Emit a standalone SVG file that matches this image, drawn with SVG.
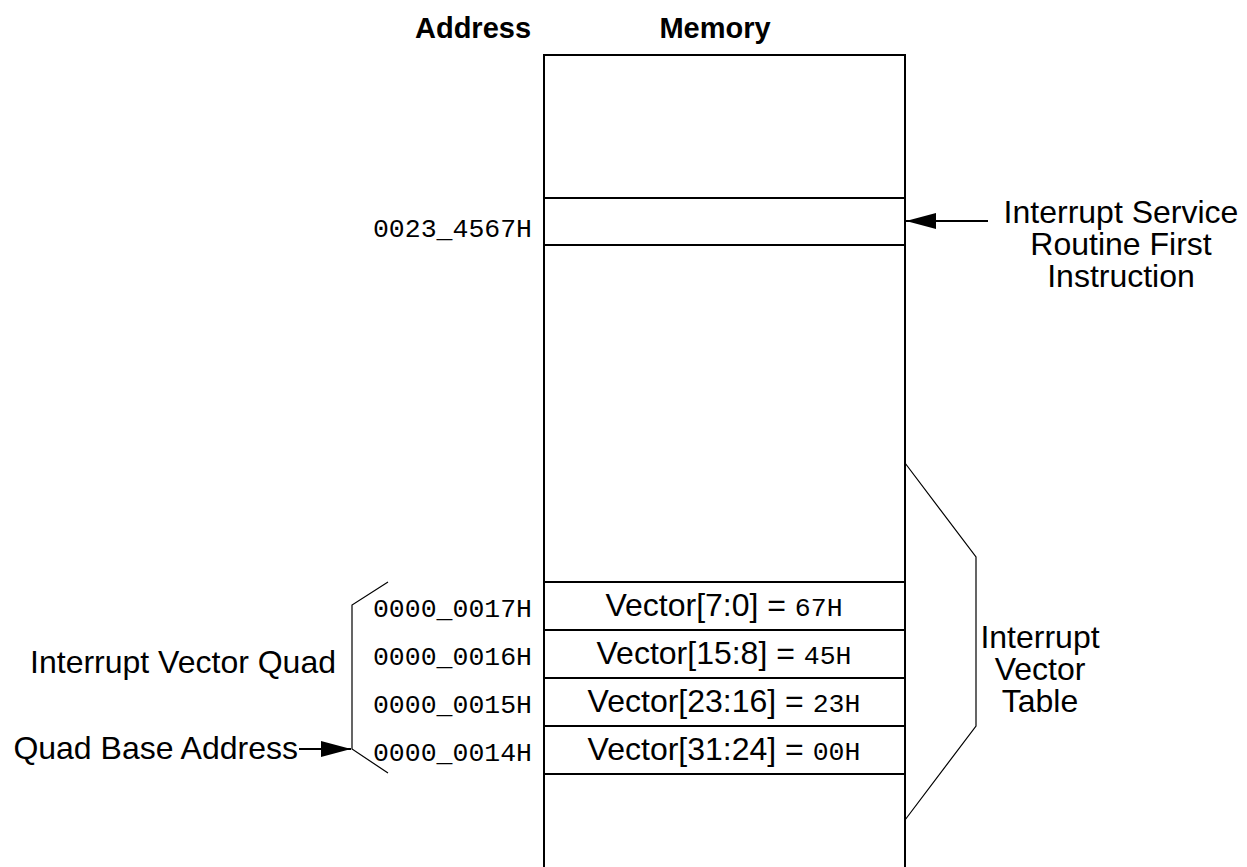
<svg xmlns="http://www.w3.org/2000/svg" width="1247" height="867" viewBox="0 0 1247 867">
  <style>
    .sans { font-family: "Liberation Sans", Arial, sans-serif; fill: #000; }
    .head { font-family: "Liberation Sans", Arial, sans-serif; font-weight: bold; font-size: 29px; fill: #000; }
    .lbl { font-size: 32px; }
    .mono { font-family: "Liberation Mono", "Courier New", monospace; font-size: 26.5px; fill: #000; }
    .box { fill: #fff; stroke: #000; stroke-width: 2; }
    .div { stroke: #000; stroke-width: 2; fill: none; }
    .thin { stroke: #000; stroke-width: 1.2; fill: none; }
  </style>
  <defs>
    <marker id="arrow" viewBox="0 0 30 16" refX="30" refY="8" markerWidth="30" markerHeight="16" markerUnits="userSpaceOnUse" orient="auto">
      <path d="M0,0 L30,8 L0,16 Z" fill="#000"/>
    </marker>
  </defs>
  <rect width="1247" height="867" fill="#fff"/>

  <!-- column headings -->
  <g id="headings">
    <text class="head" x="473" y="38" text-anchor="middle">Address</text>
    <text class="head" x="715" y="38" text-anchor="middle">Memory</text>
  </g>

  <!-- memory column with its cells -->
  <g id="memory">
    <rect class="box" x="544" y="55" width="361" height="830"/>
    <line class="div" x1="544" y1="198" x2="905" y2="198"/>
    <line class="div" x1="544" y1="245" x2="905" y2="245"/>
    <line class="div" x1="544" y1="582" x2="905" y2="582"/>
    <line class="div" x1="544" y1="630" x2="905" y2="630"/>
    <line class="div" x1="544" y1="678" x2="905" y2="678"/>
    <line class="div" x1="544" y1="726" x2="905" y2="726"/>
    <line class="div" x1="544" y1="774" x2="905" y2="774"/>
  </g>

  <g id="isr-cell">
    <text class="mono" x="532" y="237" text-anchor="end">0023_4567H</text>
  </g>

  <g id="vector-byte-0">
    <text class="mono" x="532" y="617" text-anchor="end">0000_0017H</text>
    <text class="sans lbl" x="724" y="616" text-anchor="middle">Vector[7:0] = <tspan class="mono">67H</tspan></text>
  </g>
  <g id="vector-byte-1">
    <text class="mono" x="532" y="665" text-anchor="end">0000_0016H</text>
    <text class="sans lbl" x="724" y="664" text-anchor="middle">Vector[15:8] = <tspan class="mono">45H</tspan></text>
  </g>
  <g id="vector-byte-2">
    <text class="mono" x="532" y="713" text-anchor="end">0000_0015H</text>
    <text class="sans lbl" x="724" y="712" text-anchor="middle">Vector[23:16] = <tspan class="mono">23H</tspan></text>
  </g>
  <g id="vector-byte-3">
    <text class="mono" x="532" y="761" text-anchor="end">0000_0014H</text>
    <text class="sans lbl" x="724" y="760" text-anchor="middle">Vector[31:24] = <tspan class="mono">00H</tspan></text>
  </g>

  <!-- annotations -->
  <g id="isr-label">
    <text class="sans lbl" x="1121" y="223" text-anchor="middle">Interrupt Service</text>
    <text class="sans lbl" x="1121" y="255" text-anchor="middle">Routine First</text>
    <text class="sans lbl" x="1121" y="287" text-anchor="middle">Instruction</text>
  </g>
  <g id="ivt-label">
    <text class="sans lbl" x="1040" y="648" text-anchor="middle">Interrupt</text>
    <text class="sans lbl" x="1040" y="680" text-anchor="middle">Vector</text>
    <text class="sans lbl" x="1040" y="712" text-anchor="middle">Table</text>
  </g>
  <g id="quad-label">
    <text class="sans lbl" x="336" y="673" text-anchor="end">Interrupt Vector Quad</text>
  </g>
  <g id="base-label">
    <text class="sans lbl" x="298" y="759" text-anchor="end">Quad Base Address</text>
  </g>

  <!-- connectors and brackets -->
  <g id="connectors">
    <line class="div" x1="988" y1="221" x2="906" y2="221" marker-end="url(#arrow)"/>
    <line class="div" x1="299" y1="749" x2="351" y2="749" marker-end="url(#arrow)"/>
    <polyline class="thin" points="905,463 976,557 976,726 905,820"/>
    <polyline class="thin" points="388,582 352,605 352,749 388,773"/>
  </g>
</svg>
